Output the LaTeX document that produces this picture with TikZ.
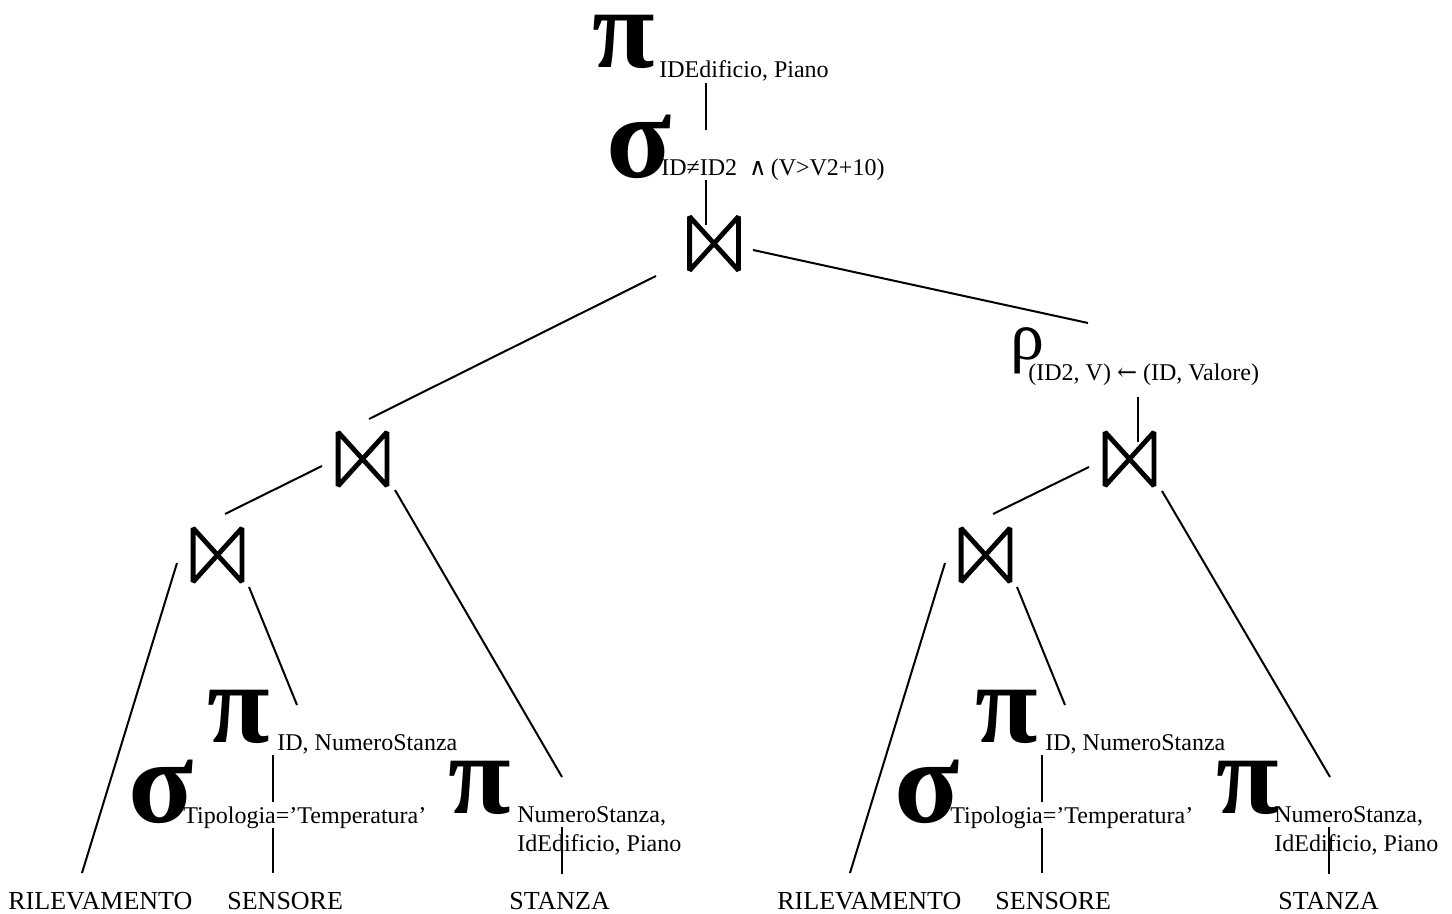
\documentclass[tikz,border=0pt]{standalone}
\usepackage{fontspec}
\setmainfont{Liberation Serif}
\newfontfamily\dvs{DejaVu Serif}
\usetikzlibrary{calc}
\tikzset{
  lbl/.style={anchor=base west, inner sep=0, font=\fontsize{13}{15}\selectfont},
  sub/.style={anchor=base west, inner sep=0, font=\fontsize{12}{14}\selectfont},
  gpi/.style={anchor=base west, inner sep=0, text height=30pt, text depth=0pt,
              font=\fontsize{57}{57}\selectfont\bfseries},
  gsig/.style={anchor=base west, inner sep=0, text height=30pt, text depth=0pt,
              font=\fontsize{60}{60}\selectfont\bfseries},
  grho/.style={anchor=base west, inner sep=0, text height=16pt, text depth=6pt,
              font=\fontsize{34}{34}\selectfont},
  conn/.style={line width=1pt},
  btie/.style={line width=2.4pt, line join=bevel},
  joinnode/.style={inner sep=0, minimum width=26pt, minimum height=28.5pt}
}
\newcommand\jnode[2]{%
  \node[joinnode] (#1) at (#2) {};
  \draw[btie] ($(#1.north west)+(2,2)$) -- ($(#1.south east)+(-2,-2)$)
     -- ($(#1.north east)+(-2,2)$) -- ($(#1.south west)+(2,-2)$) -- cycle;}
\begin{document}
\begin{tikzpicture}[x=0.5pt,y=-0.5pt]
\useasboundingbox (0,0) rectangle (1452,914);
% ---------- top ----------
\node[gpi] (piTop) at (592,68) {π};
\node[sub] (piTopSub) at (659,78) {IDEdificio, Piano};
\node[gsig] (sigTop) at (606,178) {σ};
\node[sub] (sigTopSub) at (661,176) {ID≠ID2\ \ {\dvs ∧}\,(V>V2+10)};
\jnode{j0}{714,243.5}
\node[grho] (rho) at (1010,360) {ρ};
\node[sub] (rhoSub) at (1028,381) {(ID2, V) {\dvs ←} (ID, Valore)};
\jnode{j1L}{362.5,459}
\jnode{j1R}{1129.5,459}
\jnode{j2L}{217.5,555}
\jnode{j2R}{985.5,555}
% ---------- left subtree ----------
\node[gpi] (piIDL) at (207,742) {π};
\node[sub] (piIDLsub) at (277,750) {ID, NumeroStanza};
\node[gsig] (sigL) at (128,822) {σ};
\node[sub] (sigLsub) at (183,823) {Tipologia=’Temperatura’};
\node[gpi] (piNSL) at (448,813) {π};
\node[sub] (piNSLsubA) at (517,822) {NumeroStanza,};
\node[sub] (piNSLsubB) at (517,851) {IdEdificio, Piano};
\node[lbl] (rilL) at (8,909) {RILEVAMENTO};
\node[lbl] (senL) at (227,909) {SENSORE};
\node[lbl] (staL) at (509,909) {STANZA};
% ---------- right subtree ----------
\node[gpi] (piIDR) at (975,742) {π};
\node[sub] (piIDRsub) at (1045,750) {ID, NumeroStanza};
\node[gsig] (sigR) at (894,822) {σ};
\node[sub] (sigRsub) at (950,823) {Tipologia=’Temperatura’};
\node[gpi] (piNSR) at (1216,813) {π};
\node[sub] (piNSRsubA) at (1274,822) {NumeroStanza,};
\node[sub] (piNSRsubB) at (1274,851) {IdEdificio, Piano};
\node[lbl] (rilR) at (777,909) {RILEVAMENTO};
\node[lbl] (senR) at (995,909) {SENSORE};
\node[lbl] (staR) at (1278,909) {STANZA};
% ---------- connector end points ----------
\coordinate (a1) at (705.5,83);  \coordinate (a2) at (705.5,130);
\coordinate (b1) at (706,180);   \coordinate (b2) at (706,225);
\coordinate (c1) at (656,276);   \coordinate (c2) at (369,419);
\coordinate (d1) at (753,250);   \coordinate (d2) at (1088,323);
\coordinate (e1) at (1138,397);  \coordinate (e2) at (1138,442);
\coordinate (f1) at (322,466);   \coordinate (f2) at (225,514);
\coordinate (g1) at (1089,467);  \coordinate (g2) at (993,514);
\coordinate (h1) at (395,490);   \coordinate (h2) at (562,777);
\coordinate (i1) at (1162,491);  \coordinate (i2) at (1330,777);
\coordinate (k1) at (177,563);   \coordinate (k2) at (82,873);
\coordinate (l1) at (945,563);   \coordinate (l2) at (850,873);
\coordinate (m1) at (249,587);   \coordinate (m2) at (297,705);
\coordinate (n1) at (1017,587);  \coordinate (n2) at (1065,705);
\coordinate (o1) at (273,755);   \coordinate (o2) at (273,802);
\coordinate (p1) at (273,828);   \coordinate (p2) at (273,873);
\coordinate (q1) at (1042,755);  \coordinate (q2) at (1042,802);
\coordinate (r1) at (1042,828);  \coordinate (r2) at (1042,873);
\coordinate (s1) at (562,827);   \coordinate (s2) at (562,874);
\coordinate (t1) at (1329,827);  \coordinate (t2) at (1329,874);
% ---------- connectors ----------
\foreach \u/\v in {a1/a2,b1/b2,c1/c2,d1/d2,e1/e2,f1/f2,g1/g2,h1/h2,i1/i2,
                   k1/k2,l1/l2,m1/m2,n1/n2,o1/o2,p1/p2,q1/q2,r1/r2,s1/s2,t1/t2}
  \draw[conn] (\u) -- (\v);
\end{tikzpicture}
\end{document}
